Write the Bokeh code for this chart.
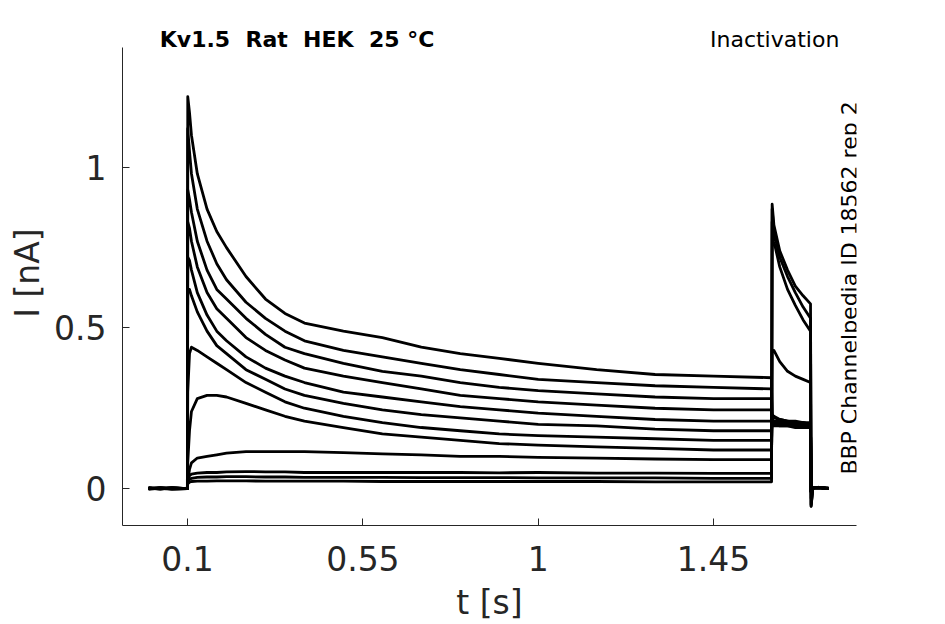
import math
from bokeh.plotting import figure
from bokeh.models import Label, FixedTicker, Range1d
from bokeh.embed import file_html
from bokeh.resources import INLINE

# ---- data ----
t_s = [0.0, 0.03, 0.06, 0.0995,
       0.1005, 0.105, 0.11, 0.125, 0.15, 0.175, 0.2, 0.25, 0.3, 0.35, 0.4,
       0.5, 0.6, 0.7, 0.8, 0.9, 1.0, 1.15, 1.3, 1.45, 1.599,
       1.6005, 1.605, 1.62, 1.64, 1.66, 1.68, 1.699,
       1.7005, 1.705, 1.72, 1.745]

I_1 = [0.002, -0.002, 0.003, 0.0,
       1.22, 1.17, 1.1, 0.98, 0.87, 0.80, 0.75, 0.66, 0.59, 0.545, 0.515,
       0.49, 0.47, 0.44, 0.42, 0.405, 0.39, 0.37, 0.355, 0.35, 0.345,
       0.215, 0.21, 0.21, 0.205, 0.205, 0.205, 0.2,
       -0.01, 0.002, 0.003, 0.0]
I_2 = [0.001, 0.002, -0.002, 0.0,
       1.12, 1.05, 0.98, 0.87, 0.77, 0.70, 0.65, 0.58, 0.53, 0.49, 0.46,
       0.43, 0.41, 0.39, 0.37, 0.355, 0.34, 0.33, 0.32, 0.315, 0.31,
       0.21, 0.205, 0.205, 0.2, 0.2, 0.2, 0.2,
       -0.01, 0.002, 0.003, 0.0]
I_3 = [-0.002, 0.001, 0.002, 0.0,
       0.93, 0.9, 0.86, 0.77, 0.68, 0.62, 0.59, 0.53, 0.48, 0.44, 0.42,
       0.39, 0.365, 0.35, 0.33, 0.315, 0.305, 0.295, 0.285, 0.28, 0.28,
       0.205, 0.2, 0.2, 0.2, 0.2, 0.195, 0.195,
       -0.01, 0.002, 0.003, 0.0]
I_4 = [0.0, 0.002, -0.001, 0.0,
       0.83, 0.81, 0.77, 0.69, 0.61, 0.56, 0.53, 0.47, 0.43, 0.40, 0.375,
       0.35, 0.33, 0.31, 0.29, 0.28, 0.27, 0.26, 0.25, 0.245, 0.245,
       0.2, 0.2, 0.195, 0.195, 0.195, 0.195, 0.195,
       -0.01, 0.002, 0.003, 0.0]
I_5 = [0.002, 0.0, 0.001, 0.0,
       0.72, 0.71, 0.68, 0.61, 0.54, 0.49, 0.46, 0.41, 0.375, 0.35, 0.33,
       0.3, 0.285, 0.27, 0.255, 0.245, 0.235, 0.225, 0.215, 0.21, 0.21,
       0.2, 0.195, 0.195, 0.195, 0.19, 0.19, 0.19,
       -0.01, 0.002, 0.003, 0.0]
I_6 = [-0.001, 0.002, 0.0, 0.0,
       0.62, 0.62, 0.60, 0.55, 0.49, 0.445, 0.42, 0.37, 0.34, 0.31, 0.29,
       0.265, 0.245, 0.23, 0.22, 0.21, 0.2, 0.195, 0.185, 0.18, 0.18,
       0.21, 0.205, 0.2, 0.2, 0.2, 0.2, 0.2,
       -0.01, 0.002, 0.003, 0.0]
I_7 = [0.001, -0.001, 0.002, 0.0,
       0.30, 0.42, 0.44, 0.43, 0.41, 0.39, 0.37, 0.33, 0.30, 0.27, 0.25,
       0.225, 0.205, 0.19, 0.18, 0.17, 0.165, 0.16, 0.155, 0.15, 0.15,
       0.225, 0.22, 0.215, 0.21, 0.21, 0.205, 0.205,
       -0.01, 0.002, 0.003, 0.0]
I_8 = [0.0, 0.001, -0.002, 0.0,
       0.08, 0.18, 0.24, 0.28, 0.29, 0.29, 0.285, 0.265, 0.245, 0.225, 0.21,
       0.19, 0.17, 0.16, 0.15, 0.14, 0.135, 0.13, 0.125, 0.12, 0.12,
       0.23, 0.225, 0.215, 0.21, 0.205, 0.205, 0.2,
       -0.01, 0.002, 0.003, 0.0]
I_9 = [0.002, 0.0, 0.001, 0.0,
       0.02, 0.06, 0.08, 0.095, 0.1, 0.105, 0.11, 0.115, 0.115, 0.115, 0.115,
       0.112, 0.108, 0.105, 0.1, 0.1, 0.097, 0.095, 0.092, 0.09, 0.09,
       0.43, 0.43, 0.395, 0.365, 0.35, 0.34, 0.33,
       -0.03, 0.002, 0.004, 0.0]
I_10 = [0.0, 0.002, 0.0, 0.0,
        0.03, 0.04, 0.045, 0.048, 0.05, 0.05, 0.052, 0.053, 0.052, 0.052, 0.05,
        0.05, 0.05, 0.05, 0.05, 0.049, 0.05, 0.048, 0.048, 0.047, 0.047,
        0.83, 0.77, 0.69, 0.62, 0.57, 0.525, 0.49,
        -0.05, 0.002, 0.004, 0.001]
I_11 = [-0.001, 0.001, 0.002, 0.0,
        0.02, 0.028, 0.032, 0.035, 0.036, 0.036, 0.037, 0.037, 0.036, 0.036, 0.035,
        0.035, 0.035, 0.034, 0.034, 0.034, 0.033, 0.033, 0.033, 0.032, 0.032,
        0.87, 0.8, 0.72, 0.66, 0.61, 0.565, 0.53,
        -0.055, 0.002, 0.004, 0.001]
I_12 = [0.001, -0.001, 0.0, 0.0,
        0.015, 0.02, 0.022, 0.023, 0.023, 0.024, 0.024, 0.024, 0.023, 0.023, 0.023,
        0.023, 0.022, 0.022, 0.022, 0.022, 0.022, 0.022, 0.021, 0.021, 0.021,
        0.885, 0.82, 0.74, 0.68, 0.63, 0.6, 0.575,
        -0.055, 0.002, 0.004, 0.001]

traces = [I_1, I_2, I_3, I_4, I_5, I_6, I_7, I_8, I_9, I_10, I_11, I_12]

x_ticks = [0.1, 0.55, 1.0, 1.45]
x_tick_labels = ["0.1", "0.55", "1", "1.45"]
y_ticks = [0.0, 0.5, 1.0]
y_tick_labels = ["0", "0.5", "1"]

NB = "\u00a0"
title_left = "Kv1.5" + NB + NB + "Rat" + NB + NB + "HEK" + NB + NB + "25" + NB + "°C"
title_right = "Inactivation"
side_text = "BBP Channelpedia ID 18562 rep 2"

# ---- figure ----
y_axis_top = 1.373
p = figure(width=940, height=624,
           x_range=Range1d(-0.067, 1.817), y_range=Range1d(-0.115, 1.457),
           output_backend="svg", toolbar_location=None,
           min_border_left=122, min_border_right=84,
           min_border_top=20, min_border_bottom=98)
p.xgrid.visible = False
p.ygrid.visible = False
p.outline_line_color = None
p.background_fill_color = "white"
p.border_fill_color = "white"

for tr in traces:
    p.line(t_s, tr, line_color="black", line_width=2.8, line_join="round")

axis_color = "#262626"
for ax in (p.xaxis[0], p.yaxis[0]):
    ax.axis_line_color = axis_color
    ax.axis_line_width = 1
    ax.major_tick_line_color = axis_color
    ax.major_tick_in = 7
    ax.major_tick_out = 0
    ax.minor_tick_line_color = None
    ax.major_label_text_color = axis_color
    ax.major_label_text_font = "DejaVu Sans"
    ax.major_label_text_font_size = "33px"
    ax.axis_label_text_color = axis_color
    ax.axis_label_text_font = "DejaVu Sans"
    ax.axis_label_text_font_size = "33px"
    ax.axis_label_text_font_style = "normal"

p.yaxis.bounds = (-0.115, y_axis_top)
p.xaxis.ticker = FixedTicker(ticks=x_ticks)
p.xaxis.major_label_overrides = {v: s for v, s in zip(x_ticks, x_tick_labels)}
p.yaxis.ticker = FixedTicker(ticks=y_ticks)
p.yaxis.major_label_overrides = {v: s for v, s in zip(y_ticks, y_tick_labels)}
p.xaxis.axis_label = "t [s]"
p.yaxis.axis_label = "I [nA]"
p.xaxis.major_label_standoff = 20
p.yaxis.major_label_standoff = 16
p.xaxis.axis_label_standoff = 9
p.yaxis.axis_label_standoff = 4

p.add_layout(Label(x=0.0287, y=1.397, text=title_left, text_font="DejaVu Sans",
                   text_font_size="22px", text_font_style="bold", text_color="black",
                   text_baseline="alphabetic", text_align="left"))
p.add_layout(Label(x=1.773, y=1.397, text=title_right, text_font="DejaVu Sans",
                   text_font_size="22px", text_color="black",
                   text_baseline="alphabetic", text_align="right"))
p.add_layout(Label(x=1.80, y=0.0434, text=side_text, text_font="DejaVu Sans",
                   text_font_size="22px", text_color="black", angle=math.pi / 2,
                   text_baseline="middle", text_align="left"))

open("out.html", "w").write(file_html(p, INLINE))
